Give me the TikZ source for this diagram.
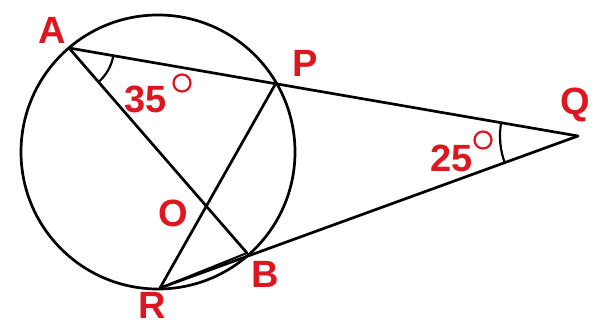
\documentclass[tikz,border=0pt]{standalone}
\usepackage{fontspec}
\setmainfont{Liberation Sans}
\usetikzlibrary{angles}
\definecolor{lblred}{RGB}{222,22,32}
\tikzset{
  geo/.style={line width=2.7pt, black, line cap=round, line join=round},
  lbl/.style={text=lblred, font=\fontsize{38}{38}\selectfont\bfseries, inner sep=0pt},
  anglbl/.style={text=lblred, font=\fontsize{38}{38}\selectfont\bfseries, inner sep=0pt},
  degmark/.style={draw=lblred, line width=2.2pt, circle, minimum size=17pt, inner sep=0pt},
}
\begin{document}
\begin{tikzpicture}[x=1pt,y=-1pt]
\useasboundingbox (0,0) rectangle (597,326);
\coordinate (Ctr) at (158,152);
\coordinate (A) at (69,48);
\coordinate (P) at (276,83);
\coordinate (Q) at (578,136);
\coordinate (R) at (160,288);
\coordinate (B) at (247,253);
\node[geo, draw, circle, minimum size=274pt, inner sep=0pt] (circ) at (Ctr) {};
\draw[geo] (A) -- (Q);
\draw[geo] (A) -- (B);
\draw[geo] (P) -- (R);
\draw[geo] (R) -- (Q);
\draw[geo, line width=2pt] (R) -- (B);
\pic[draw, line width=2.2pt, angle radius=45pt] {angle = B--A--P};
\pic[draw, line width=2.2pt, angle radius=78pt] {angle = P--Q--R};
\node[lbl] (lA) at (52,30) {A};
\node[lbl] (lP) at (305,63) {P};
\node[lbl] (lQ) at (575,105) {Q};
\node[lbl] (lO) at (173,213) {O};
\node[lbl] (lB) at (265,274) {B};
\node[lbl] (lR) at (152,305) {R};
\node[anglbl] (a35) at (146,99) {35};
\node[degmark] (d35) at (182,83) {};
\node[anglbl] (a25) at (452,158) {25};
\node[degmark] (d25) at (483,140) {};
\end{tikzpicture}
\end{document}
